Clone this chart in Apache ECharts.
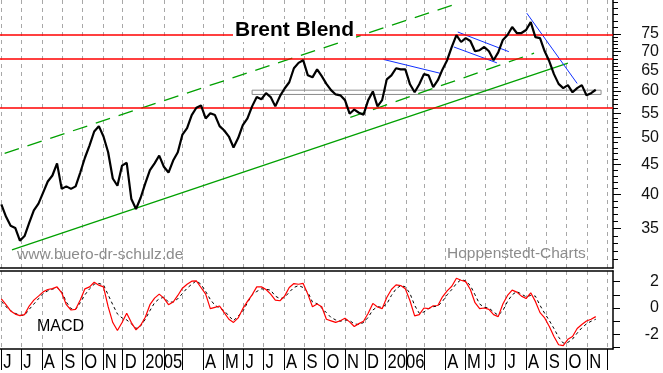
<!DOCTYPE html>
<html><head><meta charset="utf-8">
<script src="https://cdn.jsdelivr.net/npm/echarts@6/dist/echarts.min.js"></script>
<style>html,body{margin:0;padding:0;background:#fff}#c{width:663px;height:373px}</style>
</head><body><div id="c"></div>
<script>
// ---------- data ----------
const firstDate = '2004-06-01';   // weekly observations from this date
const price = [
38.5,36.7,35.4,35.1,33.4,34.0,35.8,37.6,38.6,40.3,
42.1,43.1,45.2,40.9,41.3,40.9,41.3,43.6,46.2,48.5,
51.2,52.3,50.2,47.2,42.6,41.4,44.8,45.3,39.3,37.8,
39.5,41.8,44.0,45.2,46.6,44.6,43.6,45.7,47.2,50.6,
51.9,54.6,56.2,56.7,53.9,55.0,54.6,52.3,51.4,50.2,
48.1,49.9,52.5,53.9,56.5,58.6,58.1,59.5,58.6,56.5,
58.8,60.6,62.1,65.6,67.0,67.7,63.8,63.3,65.3,63.6,
61.7,60.2,59.2,59.0,57.9,54.9,55.8,55.1,54.7,57.9,
59.9,56.5,57.9,62.8,63.8,65.6,65.3,65.3,61.6,59.7,
61.6,64.1,63.8,60.9,62.6,65.3,67.7,71.3,74.7,72.7,
73.8,73.0,70.1,70.4,71.3,70.1,67.7,69.8,73.3,74.7,
77.1,75.3,75.3,76.2,78.6,74.1,73.8,70.1,67.4,64.1,
61.7,60.7,61.4,59.7,60.7,61.4,59.0,59.5,60.3];
const macd = [
0.7,0.25,-0.22,-0.46,-0.58,-0.5,0.15,0.6,0.9,1.22,
1.4,1.47,1.6,1.15,0.25,-0.15,-0.1,0.6,1.45,1.6,
1.95,1.73,1.6,0.1,-1.1,-1.7,-1.1,-0.4,-1.1,-1.65,
-1.3,-0.7,0.25,0.75,1.05,0.75,0.25,0.45,0.95,1.5,
1.8,2.03,2.05,1.55,1.05,-0.05,0.05,0.15,-0.35,-0.85,
-1.09,-0.75,-0.05,0.5,1.0,1.6,1.6,1.4,1.05,0.6,
0.55,0.9,1.55,1.85,1.8,1.86,1.05,0.1,0.3,0.1,
-0.85,-0.97,-1.09,-0.96,-0.78,-1.05,-1.4,-1.18,-1.0,-0.4,
0.35,0.08,-0.05,0.8,1.4,1.75,1.7,1.45,0.55,-0.6,
-0.5,0.0,-0.05,0.17,0.19,0.85,1.3,1.65,2.25,2.1,
2.0,1.4,0.4,-0.05,0.0,-0.1,-0.5,-0.65,0.3,0.95,
1.35,1.2,0.9,0.72,1.15,0.5,-0.35,-0.75,-1.4,-2.15,
-2.78,-2.85,-2.37,-2.15,-1.55,-1.25,-0.98,-0.85,-0.65];
const signal = [
0.5,0.1,-0.2,-0.4,-0.55,-0.55,-0.1,0.3,0.7,1.1,
1.3,1.42,1.55,1.25,0.45,-0.05,-0.1,0.4,1.0,1.45,
1.8,1.86,1.75,1.0,0.25,-0.45,-0.75,-0.9,-1.2,-1.55,
-1.35,-0.85,-0.2,0.4,0.7,0.82,0.45,0.45,0.7,1.1,
1.5,1.8,2.05,1.8,1.25,0.65,0.2,0.0,-0.2,-0.6,
-0.96,-0.6,-0.25,0.4,1.0,1.25,1.45,1.42,1.35,0.9,
0.71,0.8,1.2,1.55,1.7,1.55,1.2,0.45,0.33,0.0,
-0.35,-0.72,-0.9,-1.0,-0.9,-0.95,-1.2,-1.25,-1.1,-0.7,
-0.15,0.1,0.05,0.3,0.95,1.45,1.7,1.6,1.1,0.2,
-0.4,-0.3,-0.05,0.1,0.15,0.5,1.0,1.4,1.85,2.15,
2.05,1.7,1.0,0.3,0.05,0.0,-0.3,-0.55,-0.2,0.5,
1.0,1.25,1.05,0.85,0.95,0.9,0.2,-0.4,-0.95,-1.55,
-2.2,-2.65,-2.6,-2.35,-1.9,-1.5,-1.2,-1.0,-0.85];

const monthStarts = ['2004-06-01','2004-07-01','2004-08-01','2004-09-01','2004-10-01','2004-11-01','2004-12-01',
'2005-01-01','2005-02-01','2005-03-01','2005-04-01','2005-05-01','2005-06-01','2005-07-01','2005-08-01','2005-09-01',
'2005-10-01','2005-11-01','2005-12-01','2006-01-01','2006-02-01','2006-03-01','2006-04-01','2006-05-01','2006-06-01',
'2006-07-01','2006-08-01','2006-09-01','2006-10-01','2006-11-01','2006-12-01'];
const monthLabels = ['J','J','A','S','O','N','D','2005','','','A','M','J','J','A','S','O','N','D','2006','','','A','M','J','J','A','S','O','N',''];

const priceLabels = [35,40,45,50,55,60,65,70,75];
const priceMinorTicks = [31,32,33,34,36,37,38,39,41,42,43,44,46,47,48,49,51,52,53,54,56,57,58,59,61,62,63,64,66,67,68,69,71,72,73,74,77,79,81,83,85];
const macdLabels = [2,0,-2];
const macdTicks = [-3,-2,-1,0,1,2];

const resistance = [74.7, 68.2, 56.2];
const greenSolid = [['2004-06-17',32.2],['2006-10-03',66.9]];
const greenDashUpper = [['2004-06-06',47.0],['2006-04-12',84.0]];
const greenDashMid = [['2005-11-09',54.1],['2006-08-13',69.6]];
const blueLines = [
  [['2005-12-29',67.9],['2006-03-25',64.3]],
  [['2006-04-20',75.6],['2006-07-06',70.0]],
  [['2006-04-14',71.3],['2006-06-18',67.0]],
  [['2006-08-02',81.4],['2006-10-17',61.8]]
];
const supportBox = {from:'2005-06-14', to:'2006-11-22', low:59.2, high:60.2};

const X_MIN = '2004-05-30', X_MAX = '2006-12-10';
const P_MIN = 30, P_MAX = 85.7;
const M_MIN = -3.1, M_MAX = 2.8;

// ---------- helpers ----------
function ts(s){ const [y,m,d]=s.split('-').map(Number); return new Date(y,m-1,d).getTime(); }
function addDays(s,n){ const [y,m,d]=s.split('-').map(Number); const t=new Date(y,m-1,d+n);
  return t.getFullYear()+'-'+String(t.getMonth()+1).padStart(2,'0')+'-'+String(t.getDate()).padStart(2,'0'); }
const dates = price.map((_,i)=>addDays(firstDate,7*i));
const monthTs = monthStarts.map(ts);
const pts = (arr)=>arr.map(p=>[ts(p[0]),p[1]]);

const chart = echarts.init(document.getElementById('c'), null, {renderer:'canvas'});
const FONT = "'Liberation Sans', Arial, sans-serif";
const gridSplit = {show:true, lineStyle:{color:'#a8a8a8', width:1, type:[4,4]}};

const seriesList = [
  {type:'line', xAxisIndex:0, yAxisIndex:0, data:dates.map((d,i)=>[ts(d),price[i]]), showSymbol:false, symbol:'none',
   lineStyle:{color:'#000', width:2.2}, z:5,
   markLine:{silent:true, symbol:'none', label:{show:false}, lineStyle:{color:'#ff0000', width:1.5, type:'solid'},
     data:resistance.map(v=>({yAxis:v}))},
   markArea:{silent:true, itemStyle:{color:'rgba(255,255,255,0)', borderColor:'#8a8a8a', borderWidth:1},
     data:[[{xAxis:ts(supportBox.from), yAxis:supportBox.low},{xAxis:ts(supportBox.to), yAxis:supportBox.high}]]}
  },
  {type:'line', xAxisIndex:0, yAxisIndex:0, data:pts(greenSolid), symbol:'none', lineStyle:{color:'#00a000', width:1.3}, z:3},
  {type:'line', xAxisIndex:0, yAxisIndex:0, data:pts(greenDashUpper), symbol:'none', lineStyle:{color:'#00a000', width:1.3, type:[15,9]}, z:3},
  {type:'line', xAxisIndex:0, yAxisIndex:0, data:pts(greenDashMid), symbol:'none', lineStyle:{color:'#00a000', width:1.3, type:[15,9]}, z:3}
].concat(blueLines.map(l=>({type:'line', xAxisIndex:0, yAxisIndex:0, data:pts(l), symbol:'none', lineStyle:{color:'#1030ff', width:1}, z:4})))
 .concat([
  {type:'line', xAxisIndex:1, yAxisIndex:3, data:dates.map((d,i)=>[ts(d),signal[i]]), symbol:'none', lineStyle:{color:'#000', width:1, type:[3,3]}, z:3},
  {type:'line', xAxisIndex:1, yAxisIndex:3, data:dates.map((d,i)=>[ts(d),macd[i]]), symbol:'none', lineStyle:{color:'#ff0000', width:1.2}, z:4}
 ]);

const xBase = {type:'value', min:ts(X_MIN), max:ts(X_MAX), scale:true};
const option = {
  animation:false,
  backgroundColor:'#fff',
  grid:[
    {left:0, right:50, top:0, height:268, outerBoundsMode:'none', containLabel:false},
    {left:0, right:50, top:271, height:78, outerBoundsMode:'none', containLabel:false}
  ],
  xAxis:[
    Object.assign({gridIndex:0, axisLine:{show:true, onZero:false, lineStyle:{color:'#000', width:1.5}},
     axisTick:{show:false, customValues:monthTs}, axisLabel:{show:false}, splitLine:gridSplit}, xBase),
    Object.assign({gridIndex:1, axisLine:{show:true, onZero:false, lineStyle:{color:'#000', width:1.5}},
     axisTick:{show:true, length:21, customValues:monthTs, lineStyle:{color:'#000', width:1}},
     axisLabel:{show:false}, splitLine:gridSplit}, xBase),
    Object.assign({gridIndex:1, position:'top', axisLine:{show:true, onZero:false, lineStyle:{color:'#000', width:1.5}},
     axisTick:{show:false}, axisLabel:{show:false}, splitLine:{show:false}}, xBase)
  ],
  yAxis:[
    {gridIndex:0, type:'log', min:P_MIN, max:P_MAX, position:'right', axisLine:{show:false}, axisTick:{show:false}, axisLabel:{show:false}, splitLine:{show:false}},
    {gridIndex:0, type:'value', min:Math.log(P_MIN), max:Math.log(P_MAX), position:'right',
     axisLine:{show:true, lineStyle:{color:'#000', width:1.5}},
     axisTick:{show:true, length:8, customValues:priceLabels.map(Math.log), lineStyle:{color:'#000'}},
     axisLabel:{show:true, customValues:priceLabels.map(Math.log), formatter:v=>String(Math.round(Math.exp(v))),
       align:'right', margin:46, fontSize:16, color:'#111', fontFamily:FONT},
     splitLine:{show:false}},
    {gridIndex:0, type:'value', min:Math.log(P_MIN), max:Math.log(P_MAX), position:'right', axisLine:{show:false},
     axisTick:{show:true, length:5, customValues:priceMinorTicks.map(Math.log), lineStyle:{color:'#000'}},
     axisLabel:{show:false}, splitLine:{show:false}},
    {gridIndex:1, type:'value', min:M_MIN, max:M_MAX, position:'right',
     axisLine:{show:true, lineStyle:{color:'#000', width:1.5}},
     axisTick:{show:true, length:7, customValues:macdTicks, lineStyle:{color:'#000'}},
     axisLabel:{show:true, customValues:macdLabels, align:'right', margin:46, fontSize:16, color:'#111', fontFamily:FONT},
     splitLine:{show:false}}
  ],
  graphic:{elements:[
    {id:'title', type:'text', left:233, top:19, z:100, style:{text:'Brent Blend', fill:'#000', font:"bold 21px 'Liberation Sans', Arial, sans-serif", backgroundColor:'#fff', padding:[1,2]}},
    {id:'wm1', type:'text', left:17, top:247, z:100, style:{text:'www.buero-dr-schulz.de', fill:'#8c8c8c', font:"15.5px 'Liberation Sans', Arial, sans-serif"}},
    {id:'wm2', type:'text', left:447, top:246, z:100, style:{text:'Hoppenstedt-Charts', fill:'#8c8c8c', font:"15.5px 'Liberation Sans', Arial, sans-serif"}},
    {id:'macdTxt', type:'text', left:37, top:319, z:100, style:{text:'MACD', fill:'#000', font:"16px 'Liberation Sans', Arial, sans-serif"}}
  ]},
  series:seriesList
};
chart.setOption(option);

// month labels: narrow text placed at the axis' own tick positions
const labelEls = [];
monthTs.forEach((t,i)=>{
  if(!monthLabels[i]) return;
  const x = chart.convertToPixel({xAxisIndex:1}, t);
  labelEls.push({id:'ml'+i, type:'text', x:x+2, y:362, scaleX:0.79, z:100,
    style:{text:monthLabels[i], fill:'#000', font:"21px 'Liberation Sans', Arial, sans-serif", align:'left', verticalAlign:'middle'}});
});
chart.setOption({graphic:{elements:labelEls}});
</script></body></html>
